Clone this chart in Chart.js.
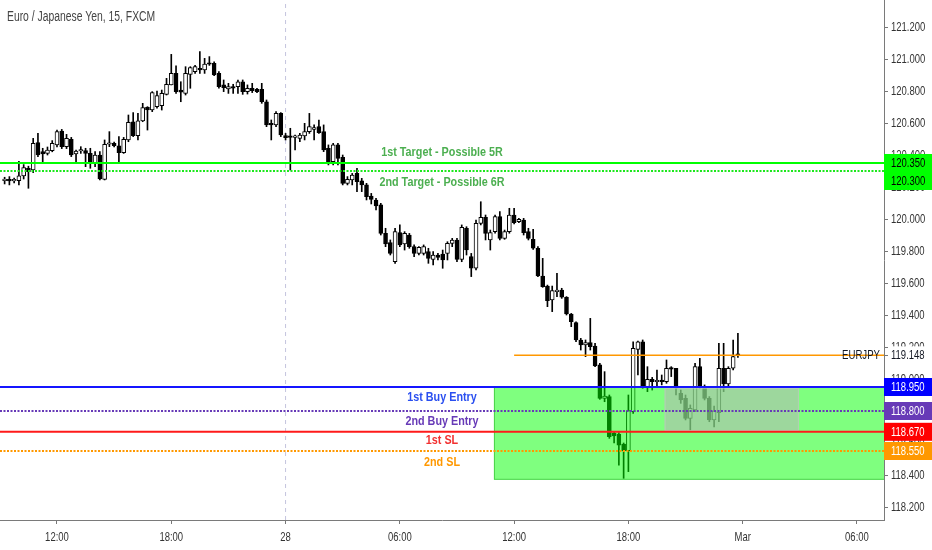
<!DOCTYPE html>
<html>
<head>
<meta charset="utf-8">
<script src="https://cdn.jsdelivr.net/npm/chart.js@4.4.0/dist/chart.umd.min.js"></script>
<style>
html, body { margin: 0; padding: 0; background: #fff; }
#wrap { width: 932px; height: 550px; position: relative; }
</style>
</head>
<body>
<div id="wrap"><canvas id="chart"></canvas></div>
<script>
// EUR/JPY 15 min candles, 27 Feb 09:15 -> 28 Feb 23:45
const openP = [
  120.240,120.240,120.238,120.240,120.270,120.317,120.306,120.477,120.421,120.410,120.427,120.463,120.550,120.452,120.498,120.406,120.425,120.427,120.410,120.348,120.400,120.248,120.467,120.473,120.458,120.415,
  120.494,120.608,120.521,120.613,120.698,120.681,120.702,120.708,120.779,120.838,120.910,120.806,120.785,120.904,120.921,120.942,120.931,120.969,120.973,120.910,120.838,120.813,120.827,120.827,120.858,
  120.796,120.817,120.810,120.810,120.733,120.598,120.588,120.660,120.521,120.515,120.510,120.504,120.519,120.546,120.560,120.577,120.546,120.442,120.358,120.463,120.385,120.223,120.244,120.285,120.238,120.213,
  120.144,120.119,120.088,119.910,119.852,119.733,119.915,119.844,119.900,119.827,119.785,119.785,119.796,119.748,119.775,119.781,119.785,119.848,119.869,119.748,119.942,119.765,119.692,119.973,120.010,119.869,
  119.921,120.015,119.879,119.921,120.025,119.983,119.994,119.921,119.873,119.817,119.644,119.581,119.494,119.546,119.556,119.511,119.406,119.352,119.244,119.213,119.227,119.206,119.088,118.879,118.890,118.660,118.656,
  118.594,118.552,118.796,119.185,119.233,118.952,118.998,118.983,118.994,118.983,119.067,119.067,118.910,118.879,118.754,118.806,119.077,118.952,118.879,118.744,118.790,119.067,118.969,119.067,119.150
];
const highP = [
  120.261,120.265,120.255,120.360,120.340,120.330,120.504,120.535,120.442,120.450,120.490,120.556,120.560,120.529,120.510,120.431,120.452,120.442,120.442,120.421,120.421,120.494,120.546,120.480,120.515,120.510,
  120.650,120.665,120.660,120.723,120.702,120.796,120.800,120.806,120.879,121.029,120.958,120.858,120.952,120.952,120.960,121.046,121.004,121.015,120.983,120.921,120.869,120.848,120.842,120.869,120.869,
  120.838,120.848,120.817,120.848,120.744,120.619,120.671,120.665,120.535,120.567,120.525,120.535,120.598,120.660,120.588,120.619,120.588,120.463,120.473,120.473,120.400,120.265,120.285,120.317,120.254,120.223,
  120.160,120.129,120.098,119.942,119.869,119.942,119.963,119.921,119.910,119.838,119.827,119.838,119.817,119.796,119.785,119.806,119.858,119.879,119.879,119.963,119.952,119.785,119.994,120.108,120.025,119.931,
  120.025,120.046,119.931,120.067,120.067,120.004,120.004,119.942,119.935,119.827,119.754,119.587,119.581,119.660,119.567,119.515,119.410,119.358,119.254,119.244,119.379,119.223,119.098,119.046,118.900,118.670,118.665,
  118.600,118.900,119.233,119.237,119.244,119.077,119.010,119.056,119.025,119.119,119.077,119.067,118.931,118.900,118.838,119.098,119.129,118.963,118.890,118.830,119.223,119.223,119.077,119.244,119.285
];
const lowP = [
  120.219,120.213,120.225,120.213,120.250,120.192,120.290,120.390,120.352,120.400,120.420,120.450,120.440,120.440,120.390,120.352,120.410,120.327,120.317,120.327,120.244,120.244,120.452,120.450,120.350,120.410,
  120.483,120.515,120.494,120.608,120.556,120.671,120.692,120.681,120.775,120.838,120.785,120.733,120.775,120.817,120.910,120.910,120.910,120.960,120.896,120.817,120.796,120.785,120.785,120.785,120.779,
  120.781,120.790,120.790,120.723,120.577,120.494,120.577,120.515,120.494,120.306,120.431,120.483,120.494,120.535,120.494,120.535,120.421,120.338,120.338,120.338,120.213,120.213,120.213,120.171,120.171,120.119,
  120.094,120.056,119.900,119.827,119.775,119.723,119.827,119.806,119.817,119.765,119.775,119.775,119.723,119.713,119.744,119.692,119.744,119.827,119.733,119.733,119.775,119.640,119.681,119.963,119.869,119.806,
  119.911,119.869,119.873,119.911,119.969,119.977,119.900,119.869,119.810,119.640,119.573,119.452,119.421,119.515,119.504,119.400,119.327,119.233,119.181,119.140,119.181,119.077,118.873,118.858,118.629,118.600,118.462,
  118.379,118.421,118.785,119.025,118.942,118.921,118.931,118.952,118.963,118.973,119.015,118.900,118.848,118.744,118.681,118.796,118.942,118.869,118.733,118.700,118.733,118.921,118.952,119.056,119.135
];
const closeP = [
  120.243,120.238,120.240,120.270,120.321,120.296,120.473,120.400,120.406,120.431,120.473,120.546,120.452,120.504,120.400,120.425,120.431,120.410,120.348,120.400,120.250,120.467,120.473,120.458,120.415,120.498,
  120.604,120.521,120.613,120.696,120.681,120.790,120.771,120.785,120.842,120.910,120.796,120.792,120.910,120.946,120.952,120.931,120.969,120.967,120.900,120.827,120.821,120.827,120.817,120.858,120.796,
  120.817,120.802,120.796,120.733,120.588,120.588,120.660,120.525,120.508,120.510,120.515,120.525,120.546,120.577,120.572,120.540,120.431,120.358,120.463,120.379,120.223,120.248,120.275,120.233,120.213,120.140,
  120.123,120.081,119.910,119.844,119.785,119.921,119.838,119.910,119.827,119.785,119.823,119.827,119.754,119.775,119.760,119.744,119.848,119.869,119.748,119.948,119.806,119.692,119.973,120.010,119.910,119.915,
  120.015,119.879,119.921,120.025,119.977,119.998,119.915,119.879,119.817,119.644,119.577,119.490,119.552,119.556,119.511,119.406,119.358,119.244,119.213,119.227,119.202,119.081,118.879,118.894,118.640,118.644,118.587,
  118.552,118.802,119.192,119.233,118.952,118.998,118.983,118.992,118.983,119.067,119.062,118.942,118.869,118.754,118.817,119.077,118.952,118.879,118.744,118.800,119.067,118.969,119.067,119.140,119.148
];
// time axis in hours from 27 Feb 00:00
const FIRST_BAR = 9.25;
const BAR_STEP = 0.25; // 15 min resolution
const xTickHours = [12, 18, 24, 30, 36, 42, 48, 54];
const xTickLabels = ['12:00', '18:00', '28', '06:00', '12:00', '18:00', 'Mar', '06:00'];
const yTicks = [118.2, 118.4, 118.6, 118.8, 119.0, 119.2, 119.4, 119.6, 119.8, 120.0, 120.2, 120.4, 120.6, 120.8, 121.0, 121.2];

// drawn levels
const levelPrices = [120.35, 120.30, 118.95, 118.80, 118.67, 118.55];
const levelNames = ['1st Target - Possible 5R', '2nd Target - Possible 6R', '1st Buy Entry', '2nd Buy Entry', '1st SL', '2nd SL'];
const lastPrice = 119.148;
const lastPriceFrom = 36;
const daySplit = 24;

// zones (time from/to, price top/bottom)
const zoneFrom = [34.94, 43.9];
const zoneTo = [60, 50.95];
const zoneTop = [118.95, 118.945];
const zoneBottom = [118.37, 118.675];

const X_MIN = 9.0075, X_MAX = 55.42;
const Y_MIN = 118.11875, Y_MAX = 121.36875;
const FONT = "'Liberation Sans', Arial, sans-serif";
const NARROW = 0.73;

const lineColor = ['#00ff00', '#1ee81e', '#1515ff', '#673ab7', '#ff1a1a', '#ff9800'];
const lineWidth = [2, 2, 2, 2, 2, 2];
const lineDash = [[], [2, 1.5], [], [2, 1.5], [], [2, 1.5]];
const textColor = ['#4caf50', '#4caf50', '#2a4ff0', '#673ab7', '#f23030', '#ff9800'];
const textOffset = [-11, 11, 10, 10, 9, 11];
const boxBg = ['#00ff00', '#00ff00', '#0000ff', '#673ab7', '#ff0000', '#ff9800'];
const boxFg = ['#000', '#000', '#fff', '#fff', '#fff', '#fff'];
const zoneFill = ['rgba(0,255,0,0.5)', 'rgba(182,182,182,0.55)'];
const zoneEdge = ['rgba(60,200,60,0.8)', 'rgba(200,200,200,0.6)'];

Chart.defaults.font.family = FONT;
Chart.defaults.font.size = 12;

const barTime = openP.map((_, i) => FIRST_BAR + i * BAR_STEP);
const bodies = openP.map((o, i) => ({ x: barTime[i], y: [o, closeP[i]] }));
const wicks = openP.map((_, i) => ({ x: barTime[i], y: [lowP[i], highP[i]] }));

const datasets = [
  {
    type: 'bar', label: 'bodies', data: bodies, order: 2, grouped: false,
    barThickness: 4, minBarLength: 1.5, borderWidth: 1, borderColor: '#000', borderSkipped: false,
    backgroundColor: ctx => closeP[ctx.dataIndex] >= openP[ctx.dataIndex] ? '#ffffff' : '#000000'
  },
  {
    type: 'bar', label: 'wicks', data: wicks, order: 3, grouped: false,
    barThickness: 1, backgroundColor: '#000', borderWidth: 0
  },
  {
    type: 'line', label: 'split', order: 20, pointRadius: 0, borderWidth: 1,
    borderColor: '#c4c4de', borderDash: [4, 4],
    data: [{ x: daySplit, y: Y_MIN }, { x: daySplit, y: Y_MAX }]
  },
  {
    type: 'line', label: 'last', order: 1, pointRadius: 0, borderWidth: 1.5, borderColor: '#ff9800',
    data: [{ x: lastPriceFrom, y: lastPrice }, { x: X_MAX, y: lastPrice }]
  }
];
levelPrices.forEach((p, i) => {
  datasets.push({
    type: 'line', label: levelNames[i], order: 0, pointRadius: 0,
    borderColor: lineColor[i], borderWidth: lineWidth[i], borderDash: lineDash[i],
    data: [{ x: X_MIN, y: p }, { x: X_MAX, y: p }]
  });
});

// the chart font is wider than the original one, so text is squeezed a little
function narrowText(ctx, text, x, y, align, k) {
  ctx.save();
  ctx.translate(x, y);
  ctx.scale(k, 1);
  ctx.textAlign = align;
  ctx.fillText(text, 0, 0);
  ctx.restore();
}

const overlays = {
  id: 'overlays',
  afterDatasetDraw(chart, args) {
    if (chart.data.datasets[args.index].label !== 'bodies') return;
    const { ctx, chartArea: a, scales: { x, y } } = chart;
    ctx.save();
    ctx.beginPath();
    ctx.rect(a.left, a.top, a.right - a.left, a.bottom - a.top);
    ctx.clip();
    zoneFrom.forEach((f, i) => {
      const x0 = x.getPixelForValue(f), x1 = x.getPixelForValue(zoneTo[i]);
      const y0 = y.getPixelForValue(zoneTop[i]), y1 = y.getPixelForValue(zoneBottom[i]);
      ctx.fillStyle = zoneFill[i];
      ctx.fillRect(x0, y0, x1 - x0, y1 - y0);
      ctx.strokeStyle = zoneEdge[i];
      ctx.lineWidth = 1;
      ctx.strokeRect(x0 + 0.5, y0 + 0.5, x1 - x0 - 1, y1 - y0 - 1);
    });
    ctx.restore();
  },
  afterDatasetsDraw(chart) {
    const { ctx, chartArea: a, scales: { y } } = chart;
    ctx.save();
    ctx.font = 'bold 13px ' + FONT;
    ctx.textBaseline = 'middle';
    const cx = (a.left + a.right) / 2;
    levelPrices.forEach((p, i) => {
      ctx.fillStyle = textColor[i];
      narrowText(ctx, levelNames[i], cx, y.getPixelForValue(p) + textOffset[i], 'center', 0.83);
    });
    ctx.font = '13px ' + FONT;
    ctx.fillStyle = '#131722';
    narrowText(ctx, 'EURJPY', a.right - 4, y.getPixelForValue(lastPrice), 'right', 0.74);
    ctx.restore();
  },
  afterDraw(chart) {
    const { ctx, chartArea: a, scales: { x, y } } = chart;
    ctx.save();
    ctx.font = '13px ' + FONT;
    ctx.textBaseline = 'middle';
    ctx.fillStyle = '#333';
    // axis tick labels
    y.ticks.forEach(t => narrowText(ctx, t.value.toFixed(3), a.right + 7, y.getPixelForValue(t.value) + 0.5, 'left', NARROW));
    x.ticks.forEach((t, i) => narrowText(ctx, xTickLabels[i], x.getPixelForValue(t.value), a.bottom + 17, 'center', NARROW));
    // price labels on the axis, pushed apart when they overlap
    const boxes = levelPrices.map((p, i) => ({ v: p, bg: boxBg[i], fg: boxFg[i], left: a.right }));
    boxes.push({ v: lastPrice, bg: '#ffffff', fg: '#131722', left: a.right + 5 });
    boxes.sort((b1, b2) => b2.v - b1.v);
    const h = 18;
    let prevBottom = -1e9;
    boxes.forEach(b => {
      let top = y.getPixelForValue(b.v) - h / 2;
      if (top < prevBottom) top = prevBottom;
      prevBottom = top + h;
      ctx.fillStyle = b.bg;
      ctx.fillRect(b.left, top, chart.width - b.left, h);
      ctx.fillStyle = b.fg;
      narrowText(ctx, b.v.toFixed(3), a.right + 7, top + h / 2 + 0.5, 'left', NARROW);
    });
    // tick mark for the last price
    const ly = Math.round(y.getPixelForValue(lastPrice)) + 0.5;
    ctx.strokeStyle = '#777';
    ctx.lineWidth = 1;
    ctx.beginPath();
    ctx.moveTo(a.right, ly);
    ctx.lineTo(a.right + 4, ly);
    ctx.stroke();
    // title
    ctx.font = '14px ' + FONT;
    ctx.fillStyle = '#444';
    narrowText(ctx, 'Euro / Japanese Yen, 15, FXCM', 7, 17, 'left', 0.74);
    ctx.restore();
  }
};

new Chart(document.getElementById('chart'), {
  type: 'bar',
  data: { datasets },
  options: {
    responsive: true,
    maintainAspectRatio: false,
    animation: false,
    layout: { padding: 0 },
    plugins: { legend: { display: false }, tooltip: { enabled: false } },
    scales: {
      x: {
        type: 'linear', min: X_MIN, max: X_MAX, offset: false,
        grid: { display: true, drawOnChartArea: false, drawTicks: true, tickLength: 4, offset: false, color: '#777' },
        border: { display: true, color: '#7a7a7a' },
        afterBuildTicks: s => { s.ticks = xTickHours.map(v => ({ value: v })); },
        afterFit: s => { s.height = 30; s.paddingLeft = 0; s.paddingRight = 0; },
        ticks: { display: false }
      },
      y: {
        type: 'linear', position: 'right', min: Y_MIN, max: Y_MAX,
        grid: { display: true, drawOnChartArea: false, drawTicks: true, tickLength: 4, color: '#777' },
        border: { display: true, color: '#7a7a7a' },
        afterBuildTicks: s => { s.ticks = yTicks.map(v => ({ value: v })); },
        afterFit: s => { s.width = 48; s.paddingTop = 0; s.paddingBottom = 0; },
        ticks: { display: false }
      }
    }
  },
  plugins: [overlays]
});
</script>
</body>
</html>
